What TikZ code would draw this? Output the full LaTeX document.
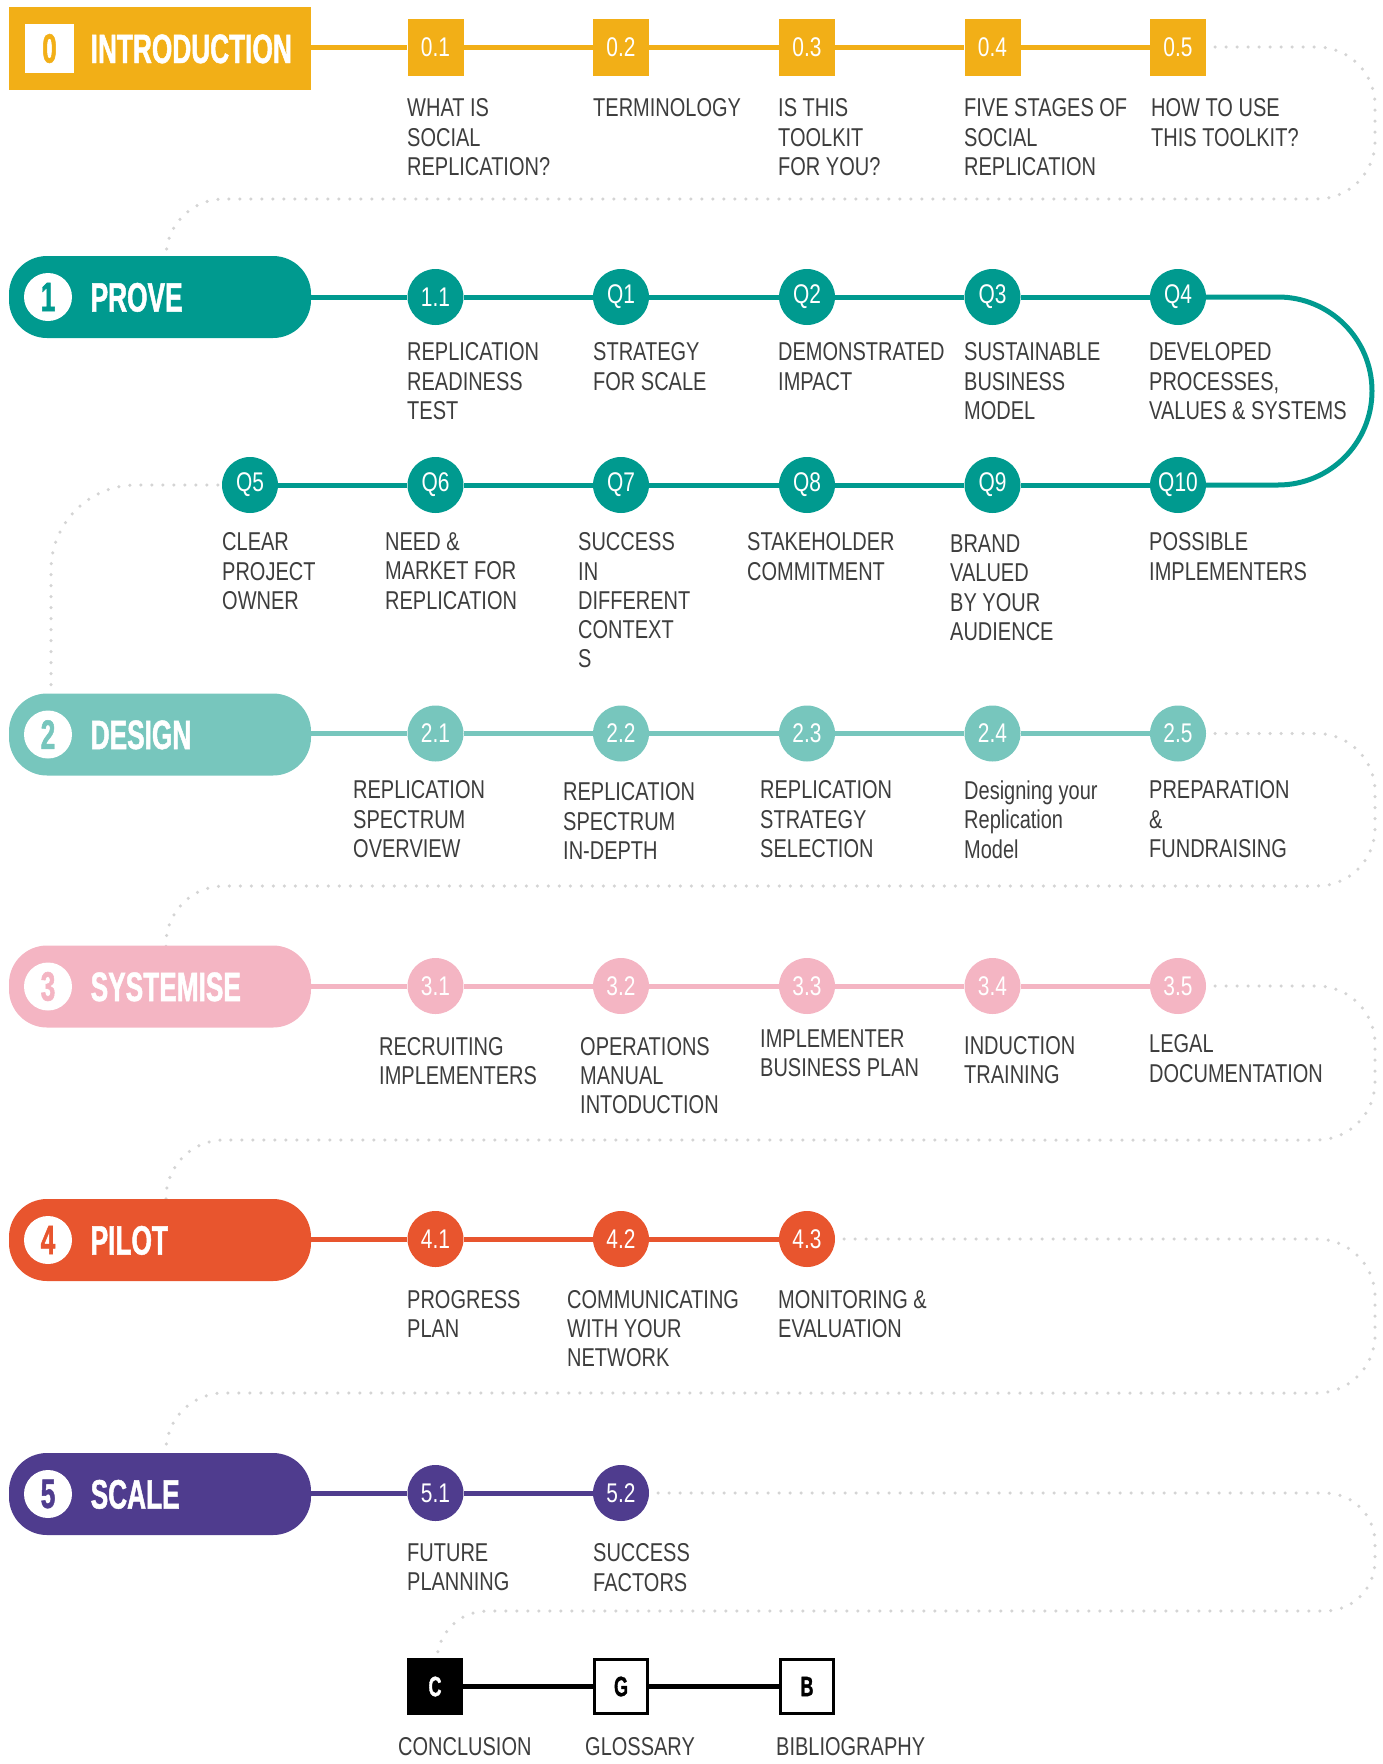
\documentclass[tikz,border=0pt]{standalone}
\usepackage{fontspec}
\setmainfont{Liberation Sans}[FakeStretch=0.775]
\newfontfamily\condbold{Liberation Sans}[FakeStretch=0.64,FakeBold=1.2]
\usetikzlibrary{backgrounds}

\definecolor{introY}{HTML}{F2AF17}
\definecolor{proveT}{HTML}{009A8F}
\definecolor{designT}{HTML}{77C6BD}
\definecolor{systP}{HTML}{F4B5C3}
\definecolor{pilotO}{HTML}{E8552E}
\definecolor{scaleP}{HTML}{4F3C8E}
\definecolor{labelG}{HTML}{3D3D3D}
\definecolor{dotG}{HTML}{D4D4D4}

\newcommand\lblsize{\fontsize{25.8}{29.3}\selectfont}
\newcommand\numsize{\fontsize{27}{30}\selectfont}
\newcommand\headsize{\condbold\bfseries\fontsize{41}{46}\selectfont}
\newcommand\lettersize{\condbold\bfseries\fontsize{28}{32}\selectfont}

\begin{document}
\begin{tikzpicture}[x=1pt,y=-1pt,
  lbl/.style={anchor=north west,inner sep=0pt,align=left,font=\lblsize,text=labelG},
  stopdot/.style={circle,minimum size=56pt,inner sep=0pt,fill=#1,text=white,font=\numsize},
  sqstop/.style={rectangle,minimum width=56pt,minimum height=57pt,inner sep=0pt,fill=introY,text=white,font=\numsize},
  pill/.style={rectangle,rounded corners=38pt,minimum width=302pt,minimum height=82pt,inner sep=0pt,fill=#1},
  badge/.style={circle,minimum size=48pt,inner sep=0pt,fill=white,text=#1,font=\headsize},
  headtxt/.style={anchor=base west,inner sep=0pt,text=white,font=\headsize},
  track/.style={draw=#1,line width=5pt},
  dotline/.style={draw=dotG,line width=3.5pt,line cap=round,dash pattern=on 0pt off 11pt},
  endbox/.style={rectangle,minimum width=53pt,minimum height=54pt,inner sep=0pt,line width=3pt,draw=black,font=\lettersize}
]
\useasboundingbox (0,0) rectangle (1383,1764);

% ---------- 0 INTRODUCTION ----------
\node[rectangle,minimum width=302pt,minimum height=83pt,inner sep=0pt,fill=introY] (p0) at (160,48.5) {};
\node[rectangle,minimum size=49pt,inner sep=0pt,fill=white,text=introY,font=\headsize] (b0) at (49.5,48.5) {0};
\node[headtxt] (h0) at (90.5,63) {INTRODUCTION};
\node[sqstop] (s01) at (435.5,47) {0.1};
\node[sqstop] (s02) at (621,47) {0.2};
\node[sqstop] (s03) at (807,47) {0.3};
\node[sqstop] (s04) at (992.5,47) {0.4};
\node[sqstop] (s05) at (1178,47) {0.5};
\node[lbl] (t01) at (407,98.5) {WHAT IS\\SOCIAL\\REPLICATION?};
\node[lbl] (t02) at (593,98.5) {TERMINOLOGY};
\node[lbl] (t03) at (778,98.5) {IS THIS\\TOOLKIT\\FOR YOU?};
\node[lbl] (t04) at (964,98.5) {FIVE STAGES OF\\SOCIAL\\REPLICATION};
\node[lbl] (t05) at (1151,98.5) {HOW TO USE\\THIS TOOLKIT?};

% ---------- 1 PROVE ----------
\node[pill=proveT] (p1) at (160,297) {};
\node[badge=proveT] (b1) at (48,297) {1};
\node[headtxt] (h1) at (90.5,311.5) {PROVE};
\node[stopdot=proveT] (c11) at (435.5,297) {1.1};
\node[stopdot=proveT] (q1) at (621,297) {Q1};
\node[stopdot=proveT] (q2) at (807,297) {Q2};
\node[stopdot=proveT] (q3) at (992.5,297) {Q3};
\node[stopdot=proveT] (q4) at (1178,297) {Q4};
\node[stopdot=proveT] (q5) at (250,485) {Q5};
\node[stopdot=proveT] (q6) at (435.5,485) {Q6};
\node[stopdot=proveT] (q7) at (621,485) {Q7};
\node[stopdot=proveT] (q8) at (807,485) {Q8};
\node[stopdot=proveT] (q9) at (992.5,485) {Q9};
\node[stopdot=proveT] (q10) at (1178,485) {Q10};
\node[lbl] (t11) at (407,342.5) {REPLICATION\\READINESS\\TEST};
\node[lbl] (tq1) at (593,342.5) {STRATEGY\\FOR SCALE};
\node[lbl] (tq2) at (778,342.5) {DEMONSTRATED\\IMPACT};
\node[lbl] (tq3) at (964,342.5) {SUSTAINABLE\\BUSINESS\\MODEL};
\node[lbl] (tq4) at (1149,342.5) {DEVELOPED\\PROCESSES,\\VALUES \& SYSTEMS};
\node[lbl] (tq5) at (222,532.5) {CLEAR\\PROJECT\\OWNER};
\node[lbl] (tq6) at (385,532.5) {NEED \&\\MARKET FOR\\REPLICATION};
\node[lbl] (tq7) at (578,532.5) {SUCCESS\\IN\\DIFFERENT\\CONTEXT\\S};
\node[lbl] (tq8) at (747,532.5) {STAKEHOLDER\\COMMITMENT};
\node[lbl] (tq9) at (950,534.5) {BRAND\\VALUED\\BY YOUR\\AUDIENCE};
\node[lbl] (tq10) at (1149,532.5) {POSSIBLE\\IMPLEMENTERS};

% ---------- 2 DESIGN ----------
\node[pill=designT] (p2) at (160,734.5) {};
\node[badge=designT] (b2) at (48,734.5) {2};
\node[headtxt] (h2) at (90.5,749) {DESIGN};
\node[stopdot=designT] (d21) at (435.5,733.5) {2.1};
\node[stopdot=designT] (d22) at (621,733.5) {2.2};
\node[stopdot=designT] (d23) at (807,733.5) {2.3};
\node[stopdot=designT] (d24) at (992.5,733.5) {2.4};
\node[stopdot=designT] (d25) at (1178,733.5) {2.5};
\node[lbl] (t21) at (353,780.5) {REPLICATION\\SPECTRUM\\OVERVIEW};
\node[lbl] (t22) at (563,782.5) {REPLICATION\\SPECTRUM\\IN-DEPTH};
\node[lbl] (t23) at (760,780.5) {REPLICATION\\STRATEGY\\SELECTION};
\node[lbl] (t24) at (964,780.5) {Designing your\\Replication\\Model};
\node[lbl] (t25) at (1149,780.5) {PREPARATION\\\&\\FUNDRAISING};

% ---------- 3 SYSTEMISE ----------
\node[pill=systP] (p3) at (160,986.5) {};
\node[badge=systP] (b3) at (48,986.5) {3};
\node[headtxt] (h3) at (90.5,1001) {SYSTEMISE};
\node[stopdot=systP] (c31) at (435.5,986) {3.1};
\node[stopdot=systP] (c32) at (621,986) {3.2};
\node[stopdot=systP] (c33) at (807,986) {3.3};
\node[stopdot=systP] (c34) at (992.5,986) {3.4};
\node[stopdot=systP] (c35) at (1178,986) {3.5};
\node[lbl] (t31) at (379,1037) {RECRUITING\\IMPLEMENTERS};
\node[lbl] (t32) at (580,1037) {OPERATIONS\\MANUAL\\INTODUCTION};
\node[lbl] (t33) at (760,1029.5) {IMPLEMENTER\\BUSINESS PLAN};
\node[lbl] (t34) at (964,1036) {INDUCTION\\TRAINING};
\node[lbl] (t35) at (1149,1034.5) {LEGAL\\DOCUMENTATION};

% ---------- 4 PILOT ----------
\node[pill=pilotO] (p4) at (160,1240) {};
\node[badge=pilotO] (b4) at (48,1240) {4};
\node[headtxt] (h4) at (90.5,1254.5) {PILOT};
\node[stopdot=pilotO] (c41) at (435.5,1239) {4.1};
\node[stopdot=pilotO] (c42) at (621,1239) {4.2};
\node[stopdot=pilotO] (c43) at (807,1239) {4.3};
\node[lbl] (t41) at (407,1290) {PROGRESS\\PLAN};
\node[lbl] (t42) at (567,1290) {COMMUNICATING\\WITH YOUR\\NETWORK};
\node[lbl] (t43) at (778,1290) {MONITORING \&\\EVALUATION};

% ---------- 5 SCALE ----------
\node[pill=scaleP] (p5) at (160,1494) {};
\node[badge=scaleP] (b5) at (48,1494) {5};
\node[headtxt] (h5) at (90.5,1508.5) {SCALE};
\node[stopdot=scaleP] (c51) at (435.5,1493) {5.1};
\node[stopdot=scaleP] (c52) at (621,1493) {5.2};
\node[lbl] (t51) at (407,1543.5) {FUTURE\\PLANNING};
\node[lbl] (t52) at (593,1543.5) {SUCCESS\\FACTORS};

% ---------- closing chapters ----------
\node[endbox,fill=black,text=white] (eC) at (435,1686.5) {C};
\node[endbox,fill=white,text=black] (eG) at (621,1686.5) {G};
\node[endbox,fill=white,text=black] (eB) at (807,1686.5) {B};
\node[lbl] (tC) at (398,1737) {CONCLUSION};
\node[lbl] (tG) at (585,1737) {GLOSSARY};
\node[lbl] (tB) at (776,1737) {BIBLIOGRAPHY};

% ---------- tracks and dotted links ----------
\coordinate (rgt) at (1375,0);
\coordinate (uturn) at (1372,0);
\coordinate (k0) at (166,199);
\coordinate (k1) at (51,0);
\coordinate (k2) at (166,886);
\coordinate (k3) at (166,1140);
\coordinate (k4) at (166,1393);
\coordinate (k5) at (437,1611);

\begin{pgfonlayer}{background}
  \draw[track=introY] (p0.east |- s01) -- (s01) -- (s02) -- (s03) -- (s04) -- (s05);
  \draw[track=proveT] (p1.east |- c11) -- (c11) -- (q1) -- (q2) -- (q3) -- (q4);
  \draw[track=proveT,rounded corners=94pt] (q4) -- (q4 -| uturn) -- (uturn |- q10) -- (q10);
  \draw[track=proveT] (q10) -- (q9) -- (q8) -- (q7) -- (q6) -- (q5);
  \draw[track=designT] (p2.east |- d21) -- (d21) -- (d22) -- (d23) -- (d24) -- (d25);
  \draw[track=systP] (p3.east |- c31) -- (c31) -- (c32) -- (c33) -- (c34) -- (c35);
  \draw[track=pilotO] (p4.east |- c41) -- (c41) -- (c42) -- (c43);
  \draw[track=scaleP] (p5.east |- c51) -- (c51) -- (c52);
  \draw[line width=5pt] (eC) -- (eG) -- (eB);

  \draw[dotline,rounded corners=58pt,shorten <=9pt] (s05) -- (s05 -| rgt) -- (rgt |- k0) -- (k0) -- (k0 |- p1);
  \draw[dotline,rounded corners=85pt,shorten <=4pt] (q5) -- (q5 -| k1) -- (k1 |- p2);
  \draw[dotline,rounded corners=58pt,shorten <=9pt] (d25) -- (d25 -| rgt) -- (rgt |- k2) -- (k2) -- (k2 |- p3);
  \draw[dotline,rounded corners=58pt,shorten <=9pt] (c35) -- (c35 -| rgt) -- (rgt |- k3) -- (k3) -- (k3 |- p4);
  \draw[dotline,rounded corners=58pt,shorten <=9pt] (c43) -- (c43 -| rgt) -- (rgt |- k4) -- (k4) -- (k4 |- p5);
  \draw[dotline,rounded corners=50pt,shorten <=9pt] (c52) -- (c52 -| rgt) -- (rgt |- k5) -- (k5) -- (k5 |- eC);
\end{pgfonlayer}
\end{tikzpicture}
\end{document}
